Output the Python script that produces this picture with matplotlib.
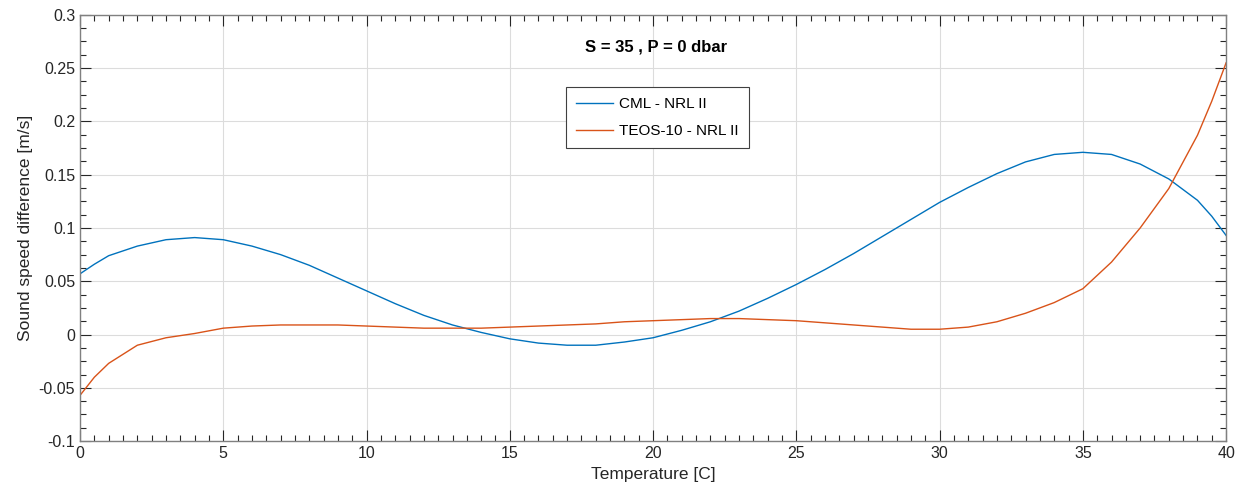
import matplotlib
matplotlib.use("Agg")
import matplotlib.pyplot as plt
from matplotlib.ticker import MultipleLocator

plt.rcParams['font.family'] = ['Liberation Sans', 'DejaVu Sans']

# temperature [C]
temp = [0, 0.5, 1, 2, 3, 4, 5, 6, 7, 8, 9,
        10, 11, 12, 13, 14, 15, 16, 17, 18, 19,
        20, 21, 22, 23, 24, 25, 26, 27, 28, 29,
        30, 31, 32, 33, 34, 35, 36, 37, 38, 39, 39.5, 40]

# sound speed differences [m/s]
cml_nrl = [0.057, 0.066, 0.074, 0.083, 0.089, 0.091, 0.089, 0.083, 0.075, 0.065, 0.053,
           0.041, 0.029, 0.018, 0.009, 0.002, -0.004, -0.008, -0.010, -0.010, -0.007,
           -0.003, 0.004, 0.012, 0.022, 0.034, 0.047, 0.061, 0.076, 0.092, 0.108,
           0.124, 0.138, 0.151, 0.162, 0.169, 0.171, 0.169, 0.160, 0.146, 0.126,
           0.111, 0.093]
teos_nrl = [-0.057, -0.040, -0.027, -0.010, -0.003, 0.001, 0.006, 0.008, 0.009, 0.009, 0.009,
            0.008, 0.007, 0.006, 0.006, 0.006, 0.007, 0.008, 0.009, 0.010, 0.012,
            0.013, 0.014, 0.015, 0.015, 0.014, 0.013, 0.011, 0.009, 0.007, 0.005,
            0.005, 0.007, 0.012, 0.020, 0.030, 0.043, 0.068, 0.100, 0.137, 0.187,
            0.219, 0.255]

fig = plt.figure(figsize=(12.41, 4.94), dpi=100)
ax = fig.add_axes([0.0645, 0.107, 0.9235, 0.863])

ax.plot(temp, cml_nrl, color='#0072BD', lw=1.0, label='CML - NRL II')
ax.plot(temp, teos_nrl, color='#D95319', lw=1.0, label='TEOS-10 - NRL II')

ax.set_xlim(0, 40)
ax.set_ylim(-0.1, 0.3)
ax.xaxis.set_major_locator(MultipleLocator(5))
ax.xaxis.set_minor_locator(MultipleLocator(0.5))
ax.yaxis.set_minor_locator(MultipleLocator(0.0125))
ax.set_yticks([-0.1, -0.05, 0, 0.05, 0.1, 0.15, 0.2, 0.25, 0.3])
ax.set_yticklabels(['-0.1', '-0.05', '0', '0.05', '0.1', '0.15', '0.2', '0.25', '0.3'])

ax.grid(True, which='major', color='#dcdcdc', lw=0.8)
ax.tick_params(which='both', direction='in', top=True, right=True,
               colors='#262626', labelsize=11.5, labelcolor='#262626')
ax.tick_params(which='major', length=8, width=0.8)
ax.tick_params(which='minor', length=4, width=0.8)
for s in ax.spines.values():
    s.set_color('#808080')
    s.set_linewidth(1.0)

ax.set_xlabel('Temperature [C]', fontsize=12.5, color='#262626')
ax.set_ylabel('Sound speed difference [m/s]', fontsize=12.5, color='#262626')

ax.text(20.1, 0.27, 'S = 35 , P = 0 dbar', ha='center', va='center',
        fontsize=12, fontweight='bold', color='black')

leg = ax.legend(loc='upper left', bbox_to_anchor=(0.424, 0.83), fontsize=11,
                fancybox=False, framealpha=1, edgecolor='#404040',
                handlelength=2.4, handletextpad=0.45, borderpad=0.65,
                labelspacing=0.85, borderaxespad=0)
leg.get_frame().set_linewidth(0.8)

fig.savefig('out.png', dpi=100)
